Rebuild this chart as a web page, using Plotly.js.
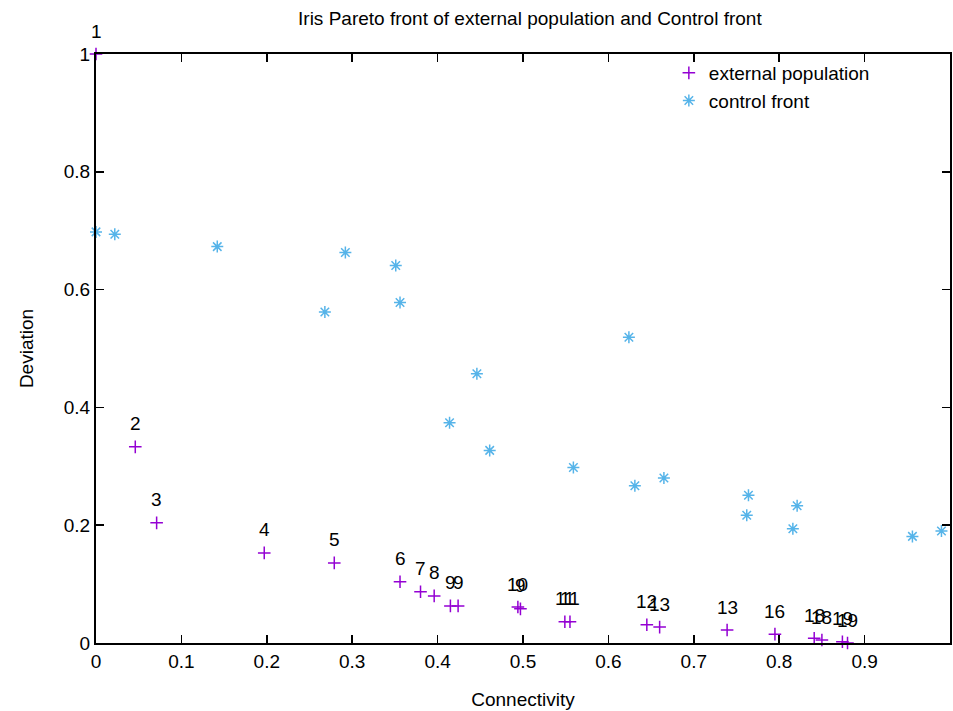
<!DOCTYPE html>
<html>
<head>
<meta charset="utf-8">
<script src="https://cdn.plot.ly/plotly-3.0.1.min.js"></script>
<style>html,body{margin:0;padding:0;background:#fff;}#chart{width:953px;height:711px;}</style>
</head>
<body>
<div id="chart"></div>
<script>
// External population (Pareto front) values
const extConnectivity = [0.0, 0.046, 0.071, 0.197, 0.279, 0.356, 0.380, 0.396, 0.415, 0.424, 0.494, 0.497, 0.549, 0.555, 0.645, 0.660, 0.739, 0.795, 0.841, 0.850, 0.874, 0.880];
const extDeviation    = [1.0, 0.333, 0.204, 0.153, 0.136, 0.104, 0.087, 0.080, 0.063, 0.063, 0.061, 0.058, 0.036, 0.036, 0.031, 0.027, 0.022, 0.015, 0.008, 0.005, 0.002, 0.000];
const extLabels       = ["1","2","3","4","5","6","7","8","9","9","10","9","11","11","12","13","13","16","18","18","19","19"];

// Control front values
const ctrlConnectivity = [0.0, 0.022, 0.142, 0.292, 0.351, 0.268, 0.356, 0.624, 0.446, 0.414, 0.461, 0.559, 0.631, 0.665, 0.764, 0.762, 0.821, 0.816, 0.956, 0.990];
const ctrlDeviation    = [0.698, 0.694, 0.673, 0.663, 0.641, 0.562, 0.578, 0.519, 0.457, 0.374, 0.327, 0.298, 0.267, 0.280, 0.251, 0.217, 0.233, 0.194, 0.181, 0.190];

const xTicks = [0, 0.1, 0.2, 0.3, 0.4, 0.5, 0.6, 0.7, 0.8, 0.9, 1];
const xTickText = ["0","0.1","0.2","0.3","0.4","0.5","0.6","0.7","0.8","0.9","1"];
const yTicks = [0, 0.2, 0.4, 0.6, 0.8, 1];
const yTickText = ["0","0.2","0.4","0.6","0.8","1"];

const FONT = "Liberation Sans, Arial, sans-serif";
const FS = 19;

const traces = [
  {
    x: extConnectivity, y: extDeviation, type: "scatter", mode: "markers",
    name: "external population", cliponaxis: false,
    marker: {symbol: "cross-thin-open", size: 9, color: "#9400d3", line: {color: "#9400d3", width: 1.5}}
  },
  {
    x: ctrlConnectivity, y: ctrlDeviation, type: "scatter", mode: "markers",
    name: "control front", cliponaxis: false,
    marker: {symbol: "asterisk-open", size: 10, color: "#56b4e9", line: {color: "#56b4e9", width: 1.5}}
  }
];

const annotations = extConnectivity.map((xv, i) => ({
  x: xv, y: extDeviation[i], xref: "x", yref: "y", text: extLabels[i],
  showarrow: false, yshift: 23, font: {family: FONT, size: FS, color: "#000"}
}));

const axisCommon = {
  showgrid: false, zeroline: false, showline: true, linecolor: "#000", linewidth: 2,
  mirror: "ticks", ticks: "inside", ticklen: 8, tickwidth: 1.5, tickcolor: "#000",
  tickfont: {family: FONT, size: FS, color: "#000"}
};

const layout = {
  width: 953, height: 711,
  paper_bgcolor: "#fff", plot_bgcolor: "#fff",
  margin: {l: 96, r: 3, t: 54, b: 68, autoexpand: false},
  title: {text: "Iris Pareto front of external population and Control front",
          font: {family: FONT, size: FS, color: "#000"}, x: 0.556, xanchor: "center", y: 0.974, yanchor: "middle"},
  xaxis: Object.assign({}, axisCommon, {
    range: [0, 1], tickvals: xTicks, ticktext: xTickText,
    title: {text: "Connectivity", font: {family: FONT, size: FS, color: "#000"}, standoff: 22}
  }),
  yaxis: Object.assign({}, axisCommon, {
    range: [0, 1], tickvals: yTicks, ticktext: yTickText,
    title: {text: "Deviation", font: {family: FONT, size: FS, color: "#000"}, standoff: 25}
  }),
  showlegend: true,
  legend: {x: 0.912, y: 1.0, xanchor: "right", yanchor: "top", bgcolor: "rgba(0,0,0,0)",
           font: {family: FONT, size: FS, color: "#000"}, tracegroupgap: 0},
  annotations: annotations
};

Plotly.newPlot("chart", traces, layout, {displayModeBar: false, staticPlot: true});
</script>
</body>
</html>
